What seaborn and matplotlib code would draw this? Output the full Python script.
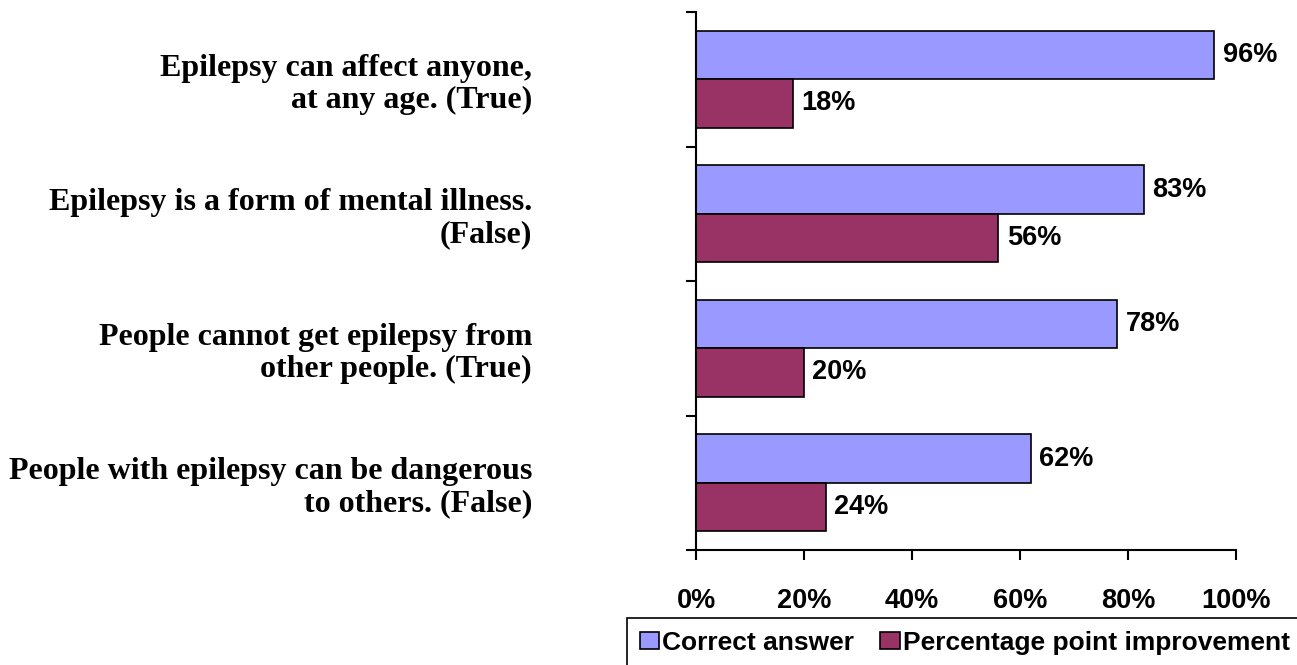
import matplotlib
matplotlib.use('Agg')
import matplotlib.pyplot as plt
import numpy as np
import pandas as pd
import seaborn as sns

statements = ["Epilepsy can affect anyone,\nat any age. (True)",
              "Epilepsy is a form of mental illness.\n(False)",
              "People cannot get epilepsy from\nother people. (True)",
              "People with epilepsy can be dangerous\nto others. (False)"]
correct = [96, 83, 78, 62]
improvement = [18, 56, 20, 24]
series = ["Correct answer", "Percentage point improvement"]
colors = ["#9999FF", "#993366"]
xticks = [0, 20, 40, 60, 80, 100]

df = pd.DataFrame({
    "statement": statements * 2,
    "value": correct + improvement,
    "series": [series[0]] * 4 + [series[1]] * 4,
})

sns.set_style("ticks")
plt.rcParams['font.family'] = ['Liberation Sans', 'DejaVu Sans']
plt.rcParams['font.weight'] = 'bold'
plt.rcParams['text.color'] = 'black'
plt.rcParams['xtick.color'] = 'black'
plt.rcParams['ytick.color'] = 'black'

fig = plt.figure(figsize=(12.97, 6.65), dpi=100)
ax = fig.add_axes([696 / 1297, 1 - 550 / 665, 540 / 1297, 538 / 665])

sns.barplot(data=df, x="value", y="statement", hue="series", order=statements,
            hue_order=series, palette=colors, orient="h", width=0.72,
            edgecolor="black", linewidth=1.2, saturation=1, ax=ax, legend=False)

for cont, vals in zip(ax.containers, [correct, improvement]):
    ax.bar_label(cont, labels=["{}%".format(v) for v in vals], padding=6,
                 fontsize=19.5, fontweight='bold', color='black')

ax.set_xlim(0, 100)
ax.set_ylim(3.5, -0.5)
ax.set_xticks(xticks)
ax.set_xticklabels(["{}%".format(t) for t in xticks], fontsize=19.5, fontweight='bold')
ax.tick_params(axis='x', length=7, width=1.5, pad=20, color='black', labelcolor='black')

# tick marks at category boundaries, labels at centres
ax.set_yticks(np.arange(-0.5, 4, 1))
ax.set_yticklabels([])
ax.set_yticks(np.arange(4), minor=True)
ax.set_yticklabels(statements, minor=True, family='Liberation Serif',
                   fontsize=23, fontweight='bold', ha='right', ma='right',
                   linespacing=1.15)
ax.tick_params(axis='y', which='major', length=7, width=1.5, color='black')
ax.tick_params(axis='y', which='minor', length=0, pad=118, labelcolor='black')
ax.set_xlabel("")
ax.set_ylabel("")

for s in ["top", "right"]:
    ax.spines[s].set_visible(False)
for s in ["left", "bottom"]:
    ax.spines[s].set_linewidth(1.5)
    ax.spines[s].set_color('black')

# legend box runs off the right/bottom edge like the original
handles = [plt.Rectangle((0, 0), 1, 1, facecolor=c, edgecolor='black', linewidth=1.2)
           for c in colors]
leg = fig.legend(handles, series, loc='upper left', bbox_to_anchor=(627 / 1297, 1 - 618 / 665),
                 ncol=2, fontsize=19, frameon=True, fancybox=False, framealpha=1,
                 handlelength=0.75, handleheight=0.6, handletextpad=0.1,
                 columnspacing=1.0, borderpad=0.48, borderaxespad=0)
leg.get_frame().set_edgecolor('black')
leg.get_frame().set_linewidth(1.2)
for t in leg.get_texts():
    t.set_fontweight('bold')
    t.set_color('black')

plt.savefig("out.png", dpi=100)
